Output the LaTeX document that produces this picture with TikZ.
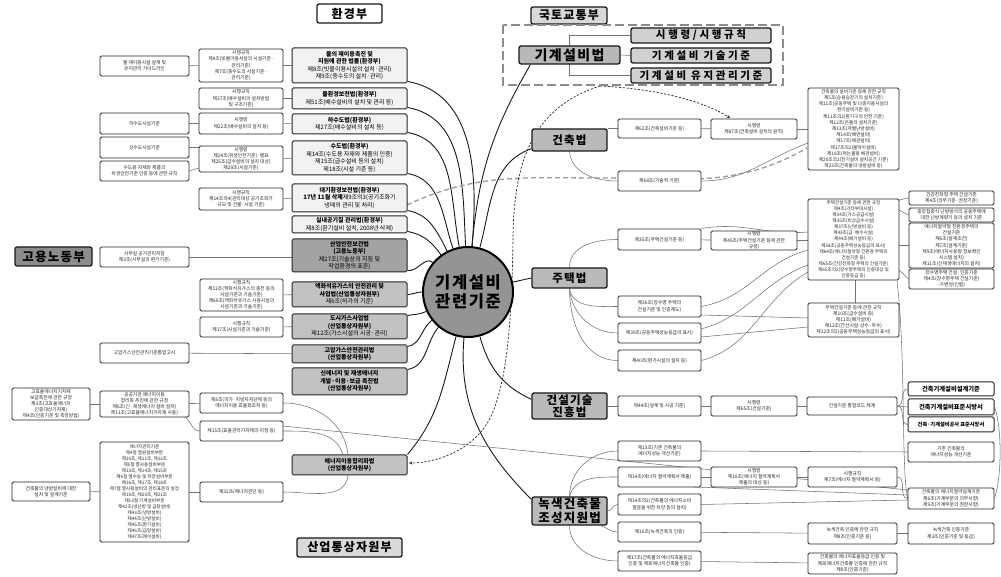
\documentclass[tikz,border=0pt]{standalone}
\usepackage{fontspec}
\setmainfont{Noto Sans CJK KR}
\newfontfamily\hfont{Noto Sans CJK KR}[LetterSpace=10]
\newfontfamily\sfont{Noto Sans CJK KR}[LetterSpace=25]
\usetikzlibrary{backgrounds,arrows.meta}
\newcommand\mybx[7]{%
 \pgfmathsetmacro\myCX{(#3+#5)/2}%
 \pgfmathsetmacro\myCY{577-(#4+#6)/2}%
 \pgfmathsetmacro\myW{#5-#3}%
 \pgfmathsetmacro\myH{#6-#4}%
 \node[#2,minimum width=\myW pt,minimum height=\myH pt] (#1) at (\myCX pt,\myCY pt) {#7};}
\tikzset{
 cnline/.style={draw=black!55, line width=0.55pt},
 hubln/.style={draw=black!90, line width=0.9pt},
 kdash/.style={draw=black!85, line width=0.7pt, dash pattern=on 2.2pt off 1.6pt},
 gdash/.style={draw=black!40, line width=1.3pt, dash pattern=on 5pt off 3pt},
 smbox/.style={draw=black!85, line width=0.8pt, rounded corners=1.5pt, fill=white, align=center, inner sep=0.3pt, text=black!85, font=\fontsize{4.8}{6.2}\selectfont},
 lawbox/.style={smbox, fill=black!5, line width=1pt, text=black, font=\fontsize{6}{7.5}\selectfont},
 hdbox/.style={draw=black!90, line width=1.3pt, rounded corners=2pt, align=center, inner sep=0pt, font=\hfont\bfseries\fontsize{12}{13}\selectfont},
 bigbox/.style={hdbox, fill=black!27, font=\hfont\bfseries\fontsize{11.5}{12.5}\selectfont},
 subbox/.style={hdbox, fill=black!18, font=\sfont\bfseries\fontsize{10.5}{12}\selectfont},
 rbbox/.style={smbox, line width=1pt, text=black, font=\bfseries\fontsize{6.3}{7.5}\selectfont},
}
\begin{document}
\begin{tikzpicture}[x=1pt,y=1pt]
\useasboundingbox (0,0) rectangle (1001,577);

% ---------- headers ----------
\mybx{hEnv}{hdbox, fill=white}{317}{4}{382}{23}{환경부}
\mybx{hMolit}{hdbox, fill=black!15}{531}{7}{607}{24}{국토교통부}
\mybx{hMoel}{hdbox, fill=black!45, font=\hfont\bfseries\fontsize{12.5}{13}\selectfont}{15}{247}{92}{266}{고용노동부}
\mybx{hMotie}{hdbox, fill=black!15}{297}{538}{402}{557}{산업통상자원부}

\draw[draw=black!45, line width=2.6pt, dash pattern=on 9pt off 4pt] (503,552) rectangle (783,492);

% ---------- law boxes (left) ----------
\mybx{B1}{lawbox}{292}{48}{407}{83}{\textbf{물의 재이용촉진 및}\\\textbf{지원에 관한 법률(환경부)}\\제8조(빗물이용시설의 설치·관리)\\제9조(중수도의 설치·관리)}
\mybx{B2}{lawbox}{292}{88}{407}{109}{\textbf{물환경보전법(환경부)}\\제51조(배수설비의 설치 및 관리 등)}
\mybx{B3}{lawbox}{292}{114}{407}{134}{\textbf{하수도법(환경부)}\\제27조(배수설비의 설치 등)}
\mybx{B4}{lawbox}{292}{141}{407}{175}{\textbf{수도법(환경부)}\\제14조(수도용 자재와 제품의 인증)\\제15조(급수설비 등의 설치)\\제18조(시설 기준 등)}
\mybx{B5}{lawbox}{292}{184}{407}{212}{\textbf{대기환경보전법(환경부)}\\\textbf{17년 11월 삭제}제9조의3(공기조화기\\냉매의 관리 및 처리)}
\mybx{B6}{lawbox}{292}{216}{407}{233}{\textbf{실내공기질 관리법(환경부)}\\제8조(환기설비 설치, 2008년 삭제)}
\mybx{B7}{lawbox, fill=black!36}{292}{239}{407}{272}{\textbf{산업안전보건법}\\\textbf{(고용노동부)}\\제27조(기술상의 지침 및\\작업환경의 표준)}
\mybx{B8}{lawbox, fill=black!24}{292}{282}{407}{307}{\textbf{액화석유가스의 안전관리 및}\\\textbf{사업법(산업통상자원부)}\\제6조(허가의 기준)}
\mybx{B9}{lawbox, fill=black!24}{292}{314}{407}{339}{\textbf{도시가스사업법}\\\textbf{(산업통상자원부)}\\제12조(가스시설의 시공·관리)}
\mybx{B10}{lawbox, fill=black!24}{292}{345}{407}{363}{\textbf{고압가스안전관리법}\\\textbf{(산업통상자원부)}}
\mybx{B11}{lawbox, fill=black!24}{292}{368}{407}{395}{\textbf{신에너지 및 재생에너지}\\\textbf{개발·이용·보급 촉진법}\\\textbf{(산업통상자원부)}}
\mybx{B12}{lawbox, fill=black!24}{292}{455}{407}{475}{\textbf{에너지이용합리화법}\\\textbf{(산업통상자원부)}}

% ---------- L column ----------
\mybx{L1}{smbox}{199}{49}{283}{82}{시행규칙\\제4조(빗물이용시설의 시설기준·\\관리기준)\\제7조(중수도의 시설기준·\\관리기준)}
\mybx{L2}{smbox}{199}{88}{283}{109}{시행규칙\\제37조(배수설비의 설치방법\\및 구조기준)}
\mybx{L3}{smbox}{199}{113}{283}{134}{시행령\\제22조(배수설비의 설치 등)}
\mybx{L4}{smbox}{199}{146}{283}{172}{시행령\\제24조(위생안전기준)·별표\\제25조(급수설비의 설치 대상)\\제29조(시설기준)}
\mybx{L5}{smbox}{199}{188}{283}{210}{시행규칙\\제14조의4(관리대상 공기조화기\\규모 및 건물·시설 기준)}
\mybx{L6}{smbox}{200}{279}{283}{311}{시행규칙\\제12조(액화석유가스의 충전 등의\\시설기준과 기술기준)\\제69조(액화석유가스 사용시설의\\시설기준과 기술기준)}
\mybx{L7}{smbox}{200}{317}{283}{337}{시행규칙\\제17조(시설기준과 기술기준)}
\mybx{L8}{smbox}{200}{393}{283}{413}{제8조(국가·지방자치단체 등의\\에너지이용 효율화조치 등)}
\mybx{L9}{smbox}{200}{421}{283}{441}{제15조(효율관리기자재의 지정 등)}
\mybx{L10}{smbox}{200}{482}{283}{502}{제32조(에너지진단 등)}

% ---------- F / G columns ----------
\mybx{F1}{smbox}{100}{56}{189}{76}{물 재이용시설 설계 및\\유지관리 가이드라인}
\mybx{F2}{smbox}{100}{113}{189}{134}{하수도시설기준}
\mybx{F3}{smbox}{100}{137}{189}{158}{상수도시설기준}
\mybx{F4}{smbox}{100}{161}{189}{181}{수도용 자재와 제품의\\위생안전기준 인증 등에 관한 규칙}
\mybx{F5}{smbox}{100}{247}{189}{267}{사무실 공기관리지침\\제3조(사무실의 환기기준)}
\mybx{F6}{smbox}{100}{343}{189}{363}{고압가스안전관리기준통합고시}
\mybx{F7}{smbox}{100}{391}{189}{417}{공공기관 에너지이용\\합리화 추진에 관한 규정\\제6조(신·재생에너지 설비 설치)\\제11조(고효율에너지기자재 사용)}
\mybx{F8}{smbox, font=\fontsize{4.6}{6.05}\selectfont}{100}{442}{189}{542}{에너지관리기준\\제4절 열원설비부문\\제10조, 제11조, 제12조\\제5절 열사용설비부문\\제13조, 제14조, 제15조\\제6절 열수송 및 저장설비부문\\제16조, 제17조, 제18조\\제7절 열사용설비의 관리표준의 설정\\제19조, 제20조, 제21조\\제13절 기계설비부문\\제42조(냉난방 및 급탕설비)\\제43조(냉방설비)\\제44조(난방설비)\\제45조(환기설비)\\제46조(급탕설비)\\제47조(제어설비)}
\mybx{G1}{smbox}{12}{388}{90}{420}{고효율에너지기자재\\보급촉진에 관한 규정\\제3조(고효율에너지\\인증대상기자재)\\제4조(인증기준 및 측정방법)}
\mybx{G2}{smbox}{12}{482}{90}{501}{건축물의 냉방설비에 대한\\설치 및 설계기준}

% ---------- hub ----------
\node[circle, draw=black, line width=2pt, fill=black!42, minimum size=90pt, inner sep=0pt, align=center, font=\hfont\bfseries\fontsize{16.5}{19}\selectfont] (hub) at (468,285) {기계설비\\관련기준};

% ---------- right: laws ----------
\mybx{mesa}{bigbox, fill=black!28, font=\hfont\bfseries\fontsize{14}{15}\selectfont}{519}{46}{620}{64}{기계설비법}
\mybx{s1}{subbox}{631}{28}{771}{43}{시행령/시행규칙}
\mybx{s2}{subbox}{631}{48}{771}{63}{기계설비 기술기준}
\mybx{s3}{subbox}{631}{68}{771}{83}{기계설비 유지관리기준}
\mybx{bld}{bigbox}{532}{129}{607}{151}{건축법}
\mybx{hou}{bigbox}{532}{268}{607}{288}{주택법}
\mybx{cti}{bigbox}{532}{393}{607}{419}{건설기술\\진흥법}
\mybx{grn}{bigbox, font=\hfont\bfseries\fontsize{12.5}{13.5}\selectfont}{532}{497}{607}{525}{녹색건축물\\조성지원법}

\mybx{M1}{smbox}{618}{119}{701}{138}{제62조(건축설비기준 등)}
\mybx{M2}{smbox}{618}{171}{701}{191}{제68조(기술적 기준)}
\mybx{M3}{smbox}{618}{229}{701}{250}{제35조(주택건설기준 등)}
\mybx{M4}{smbox}{618}{296}{701}{317}{제36조(장수명 주택의\\건설기준 및 인증제도)}
\mybx{M5}{smbox}{618}{323}{701}{343}{제39조(공동주택성능등급의 표시)}
\mybx{M6}{smbox}{618}{350}{701}{371}{제40조(환기시설의 설치 등)}
\mybx{M7}{smbox}{618}{396}{701}{416}{제44조(설계 및 시공 기준)}
\mybx{M8}{smbox}{618}{441}{701}{461}{제13조(기존 건축물의\\에너지성능 개선기준)}
\mybx{M9}{smbox}{618}{467}{701}{487}{제14조(에너지 절약계획서 제출)}
\mybx{M10}{smbox}{618}{494}{701}{515}{제14조의2(건축물의 에너지소비\\절감을 위한 차양 등의 설치)}
\mybx{M11}{smbox}{618}{522}{701}{542}{제16조(녹색건축의 인증)}
\mybx{M12}{smbox}{618}{551}{701}{571}{제17조(건축물의 에너지효율등급\\인증 및 제로에너지건축물 인증)}

\mybx{N1}{smbox}{711}{119}{797}{139}{시행령\\제87조(건축설비 설치의 원칙)}
\mybx{N2}{smbox}{711}{231}{797}{250}{시행령\\제45조(주택건설기준 등에 관한\\규정)}
\mybx{N3}{smbox}{711}{396}{797}{416}{시행령\\제65조(건설기준)}
\mybx{N4}{smbox}{711}{467}{797}{487}{시행령\\제10조(에너지 절약계획서\\제출의 대상 등)}

\mybx{P1}{smbox, font=\fontsize{4.7}{6.2}\selectfont}{808}{88}{899}{170}{건축물의 설비기준 등에 관한 규칙\\제5조(승용승강기의 설치기준)\\제11조(공동주택 및 다중이용시설의\\환기설비기준 등)\\제11조의2(환기구의 안전 기준)\\제12조(온돌의 설치기준)\\제13조(개별난방설비)\\제14조(배연설비)\\제17조(배관설비)\\제17조의2(물막이설비)\\제19조(먹는물용 배관설비)\\제20조의2(전기설비 설치공간 기준)\\제23조(건축물의 냉방설비 등)}
\mybx{P2}{smbox, font=\fontsize{4.6}{6.1}\selectfont}{808}{199}{899}{280}{주택건설기준 등에 관한 규정\\제4조(기타부대시설)\\제34조(가스공급시설)\\제35조(비상급수시설)\\제37조(난방설비 등)\\제43조(급·배수시설)\\제44조(배기설비 등)\\제58조(공동주택성능등급의 표시)\\제64조(에너지절약형 친환경 주택의\\건설기준 등)\\제65조(건강친화형 주택의 건설기준)\\제65조의2(장수명주택의 인증대상 및\\인증등급 등)}
\mybx{P3}{smbox}{808}{303}{899}{337}{주택건설기준 등에 관한 규칙\\제10조(급수설비 등)\\제11조(배기설비)\\제12조(간선시설-상수·하수)\\제12조의2(공동주택성능등급의 표시)}
\mybx{P4}{smbox}{807}{397}{897}{415}{건설기준 통합코드 체계}
\mybx{P5}{smbox}{808}{467}{897}{487}{시행규칙\\제7조(에너지 절약계획서 등)}
\mybx{P6}{smbox}{808}{523}{897}{544}{녹색건축 인증에 관한 규칙\\제8조(인증기준 등)}
\mybx{P7}{smbox}{808}{553}{897}{574}{건축물의 에너지효율등급 인증 및\\제로에너지건축물 인증에 관한 규칙\\제8조(인증기준)}

\mybx{R1}{smbox}{909}{191}{994}{205}{건강친화형 주택 건설기준\\제4조(의무기준·권장기준)}
\mybx{R2}{smbox}{909}{208}{994}{222}{중앙집중식 난방방식의 공동주택에\\대한 난방계량기 등의 설치 기준}
\mybx{R3}{smbox}{909}{223}{994}{268}{에너지절약형 친환경주택의\\건설기준\\제6조(설계조건)\\제7조(설계기준)\\제9조(에너지사용량 정보확인\\시스템 설치)\\제11조(신재생에너지의 설치)}
\mybx{R4}{smbox}{909}{269}{994}{289}{장수명주택 건설·인증기준\\제4조(장수명주택 건설기준)\\-가변성(인필)}
\mybx{R5}{rbbox}{908}{382}{994}{396}{건축기계설비설계기준}
\mybx{R6}{rbbox}{908}{399}{994}{415}{건축기계설비표준시방서}
\mybx{R7}{rbbox, font=\bfseries\fontsize{5.2}{6}\selectfont}{908}{417}{994}{432}{건축·기계설비공사 표준시방서}
\mybx{R8}{smbox}{908}{442}{994}{462}{기존 건축물의\\에너지성능 개선기준}
\mybx{R9}{smbox}{908}{488}{994}{509}{건축물의 에너지절약설계기준\\제6조(기계부문의 의무사항)\\제9조(기계부문의 권장사항)}
\mybx{R10}{smbox}{908}{523}{994}{544}{녹색건축 인증기준\\제3조(인증기준 및 등급)}

% ---------- connectors ----------
\begin{pgfonlayer}{background}
\fill[white] (0,0) rectangle (1001,577);
% hub lines (left)
\foreach \n/\a in {B1/85,B2/93,B3/101,B4/109,B5/117,B6/126,B7/140}
  \draw[hubln] ([yshift=2pt]\n.south east) to[out=-10,in=\a] (hub);
\draw[hubln] (B8.east) to[out=0,in=180] (hub);
\foreach \n/\a in {B9/205,B10/218,B11/230}
  \draw[hubln] ([yshift=-2pt]\n.north east) to[out=10,in=\a] (hub);
\draw[hubln] (B12.north east) to[out=50,in=255] (hub);
% hub lines (right)
\draw[hubln] (hub) to[out=85,in=240] ([xshift=12pt]mesa.south west);
\draw[hubln] (hub) to[out=75,in=200] ([yshift=3pt]bld.south west);
\draw[hubln] (hou.west) -- (hub);
\draw[hubln] (hub) to[out=-75,in=155] ([yshift=-7pt]cti.north west);
\draw[hubln] (hub) to[out=-95,in=135] ([yshift=-3pt]grn.north west);
% dashed
\draw[gdash] (407,372) to[out=25,in=180] (600,399) to[out=0,in=210] (807,429);
\draw[kdash,-{Stealth[length=3.5pt,width=3pt]}] (600,491) .. controls (660,488) and (705,475) .. (730,459);
\draw[kdash,-{Stealth[length=3.5pt,width=3pt]}] (600,491) .. controls (535,470) and (514,420) .. (513,340) .. controls (512,250) and (506,195) .. (492,163) .. controls (478,130) and (440,114) .. (409,114);
% left tree
\draw[cnline] (F1) -- (L1);
\draw[cnline] (L1) -- (B1);
\draw[cnline] (L2) -- (B2);
\draw[cnline] (F2) -- (L3);
\draw[cnline] (L3) -- (B3);
\draw[cnline] (F3.east) -- (F3.east -| L4.west);
\draw[cnline] (F4.east) -- (199,409);
\draw[cnline] (L4) -- (B4);
\draw[cnline] (L5) -- (B5);
\draw[cnline] (F5.east) -- (F5.east -| B7.west);
\draw[cnline] (L6) -- (B8);
\draw[cnline] (L7) -- (B9);
\draw[cnline] (F6) -- (B10);
\draw[cnline] (G1) -- (F7);
\draw[cnline] (F7) -- (L8);
\draw[cnline] (182,161) to[out=-10,in=180] (L9.west);
\draw[cnline] (G2) -- (F8);
\draw[cnline] (F8) -- (L10);
\draw[cnline] (L8.east) to[out=0,in=95] (348,122);
\draw[cnline] (L9.east) to[out=0,in=105] (343,122);
\draw[cnline] (L10.east) to[out=0,in=-95] (348,102);
\draw[cnline] (283,151) -- (908,87);
% 기계설비법 tree
\draw[cnline] (mesa.center) |- (s1.west);
\draw[cnline] (mesa.center) |- (s3.west);
\draw[cnline] (mesa.east) -- (s2.west);
% 건축법
\draw[cnline] (bld.east |- M1.west) -- (M1.west);
\draw[cnline] (bld.south) to[out=-85,in=180] (M2.west);
\draw[cnline] (M1) -- (N1);
\draw[cnline] (N1) -- (P1.west |- N1);
\draw[cnline] (M2.east) to[out=0,in=200] (808,434);
% 주택법
\draw[cnline] (hou.north) to[out=90,in=180] (M3.west);
\draw[cnline] (hou.south) to[out=-80,in=180] (M4.west);
\draw[cnline] (hou.south) to[out=-85,in=180] (M5.west);
\draw[cnline] (hou.south) to[out=-90,in=180] (M6.west);
\draw[cnline] (M3) -- (N2);
\draw[cnline] (N2) -- (P2.west |- N2);
\draw[cnline] (M3.north east) to[out=10,in=185] (808,345);
\draw[cnline] (M4.east) to[out=10,in=195] (808,327);
\draw[cnline] (701,262) -- (808,259);
\draw[cnline] (701,248) to[out=15,in=200] (808,312);
\draw[cnline] (701,240) -- (808,250);
\draw[cnline] (M6.east) to[out=15,in=210] (808,305);
\draw[cnline] (899,377) -- (R1.west);
\draw[cnline] (899,367) -- (R2.west);
\draw[cnline] (R3.west -| P2.east) -- (R3.west);
\draw[cnline] (899,307) -- (R4.west);
\draw[cnline] (855,297) -- (855,274);
\draw[cnline] (897,296) .. controls (906,220) and (901,110) .. (R9.west);
% 건설기술진흥법
\draw[cnline] (cti.east) -- (M7.west);
\draw[cnline] (M7) -- (N3);
\draw[cnline] (N3) -- (P4);
\draw[cnline] (P4.east) to[out=0,in=180] (R5.west);
\draw[cnline] (P4.east) -- (R6.west);
\draw[cnline] (P4.east) to[out=0,in=180] (R7.west);
\draw[cnline] (R6.east) .. controls (1002,150) and (1002,100) .. (R9.east);
% 녹색건축물
\draw[cnline] (grn.north) to[out=90,in=180] (M8.west);
\draw[cnline] (grn.north) to[out=75,in=180] (M9.west);
\draw[cnline] (grn.east) to[out=0,in=180] (M10.west);
\draw[cnline] (grn.-25) to[out=-20,in=180] (M11.west);
\draw[cnline] (grn.south) to[out=-90,in=180] (M12.west);
\draw[cnline] (M8.east) -- (R8.west);
\draw[cnline] (M9) -- (N4);
\draw[cnline] (N4) -- (P5);
\draw[cnline] (P5.east) to[out=0,in=180] (R9.west);
\draw[cnline] (695,90) -- (908,82);
\draw[cnline] (M10.east) -- (908,77);
\draw[cnline] (M11) -- (P6);
\draw[cnline] (P6) -- (R10);
\draw[cnline] (M12) -- (P7);
\end{pgfonlayer}
\end{tikzpicture}
\end{document}
